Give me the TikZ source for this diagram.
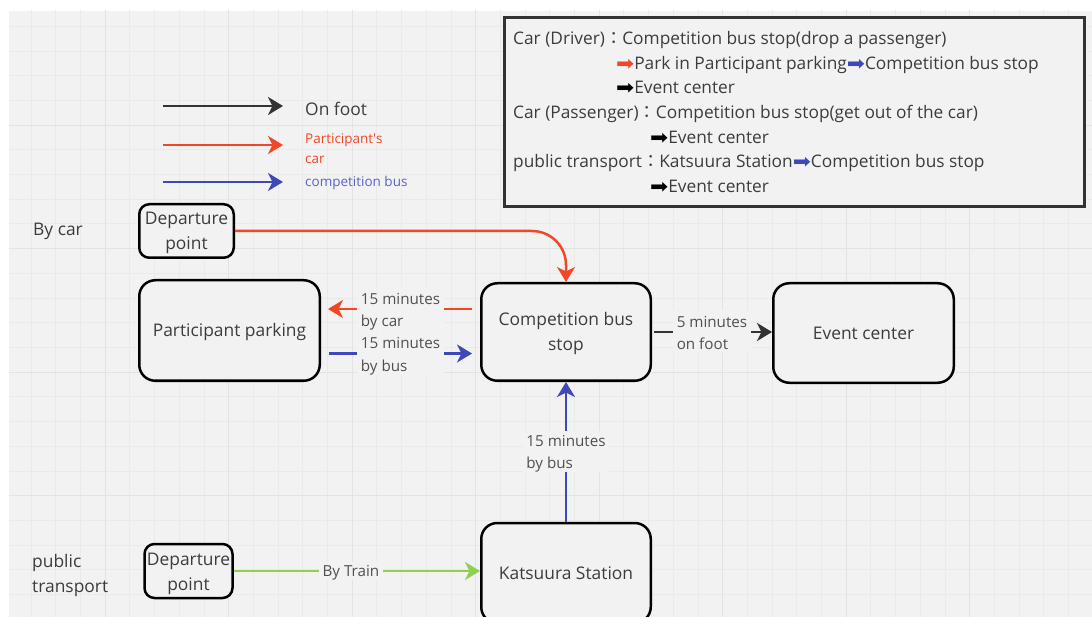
\documentclass[tikz,border=0pt]{standalone}
\usepackage{fontspec}
\setmainfont{Open Sans}
\newfontfamily\cjkfont{Noto Sans CJK JP}
\newfontfamily\symfont{DejaVu Sans}
\usetikzlibrary{arrows.meta}
\definecolor{bg}{HTML}{F2F2F2}
\definecolor{minorgrid}{HTML}{EAEAEA}
\definecolor{majorgrid}{HTML}{E3E3E3}
\definecolor{ink}{HTML}{333333}
\definecolor{txt}{HTML}{3C3C3C}
\definecolor{lbltxt}{HTML}{505050}
\definecolor{carred}{HTML}{F24726}
\definecolor{busblue}{HTML}{3F48B8}
\definecolor{traingreen}{HTML}{8FD14F}
\newcommand\rar[1]{{\color{#1}\raisebox{-0.6pt}{\scalebox{1.25}[1.15]{\symfont ➡}}}}
\newcommand\fwc{{\cjkfont ：}}
\newcommand\myTopS[1]{\rule{0pt}{#1}}
\newcommand\myBotS[1]{\rule[-#1]{0pt}{0pt}}
\tikzset{
  box/.style={draw=black, line width=2.5pt, fill=bg, align=center, text=txt,
    font=\fontsize{17.4}{25}\selectfont, inner sep=0pt},
  bigbox/.style={box, rounded corners=16pt},
  smallbox/.style={box, rounded corners=10pt},
  plain/.style={text=txt, font=\fontsize{17.4}{25}\selectfont, inner sep=0pt},
  infoline/.style={plain, font=\fontsize{17.3}{25}\selectfont, anchor=base west},
  midlbl/.style={fill=bg, text=lbltxt, align=left, font=\fontsize{15.2}{22}\selectfont,
    inner xsep=3.5pt, inner ysep=0pt},
  arr/.style={line width=2.5pt, -{Stealth[length=15pt,width=18pt,inset=4.5pt]}},
}
\begin{document}
\begin{tikzpicture}[x=1pt,y=-1pt]
\useasboundingbox (0,0) rectangle (1092,617);
\clip (0,0) rectangle (1092,617);
\fill[white] (0,0) rectangle (1092,617);
\fill[bg] (9,11) rectangle (1092,617);
\begin{scope}
\clip (9,11) rectangle (1092,617);
\foreach \k in {-4,...,40} \draw[minorgrid, line width=0.6pt] ({105+24.7*\k},0) -- ({105+24.7*\k},617);
\foreach \k in {-5,...,20} \draw[minorgrid, line width=0.6pt] (0,{125+24.7*\k}) -- (1092,{125+24.7*\k});
\foreach \k in {-1,...,8} \draw[majorgrid, line width=0.8pt] ({105+123.5*\k},0) -- ({105+123.5*\k},617);
\foreach \k in {-1,...,4} \draw[majorgrid, line width=0.8pt] (0,{125+123.5*\k}) -- (1092,{125+123.5*\k});
\end{scope}

% legend
\coordinate (l1a) at (163,106); \coordinate (l1b) at (283,106);
\coordinate (l2a) at (163,145); \coordinate (l2b) at (283,145);
\coordinate (l3a) at (163,182); \coordinate (l3b) at (283,182);
\draw[arr, ink] (l1a) -- (l1b);
\draw[arr, carred] (l2a) -- (l2b);
\draw[arr, busblue] (l3a) -- (l3b);
\node[plain, anchor=west] (lfoot) at (305,109) {On foot};
\node[anchor=west, inner sep=0pt, align=left, text=carred, font=\fontsize{13.5}{20}\selectfont] (lcar) at (305,149) {Participant\textquotesingle s\\car};
\node[anchor=west, inner sep=0pt, text=busblue!85!white, font=\fontsize{13.5}{20}\selectfont] (lbus) at (305,183) {competition bus};

% info box
\node[draw=ink, line width=3pt, fill=bg, minimum width=580pt, minimum height=189pt, inner sep=0pt] (info) at (794.5,112) {};
\node[infoline] (i1) at (513,44.5) {Car (Driver)\fwc Competition bus stop(drop a passenger)};
\node[infoline] (i2) at (616,69.5) {\rar{carred}Park in Participant parking\rar{busblue}Competition bus stop};
\node[infoline] (i3) at (616,93.5) {\rar{black}Event center};
\node[infoline] (i4) at (513,118.5) {Car (Passenger)\fwc Competition bus stop(get out of the car)};
\node[infoline] (i5) at (650,143.5) {\rar{black}Event center};
\node[infoline] (i6) at (513,167.5) {public transport\fwc Katsuura Station\rar{busblue}Competition bus stop};
\node[infoline] (i7) at (650,192.5) {\rar{black}Event center};

% side labels
\node[plain, anchor=west] (bycar) at (33,231) {By car};
\node[plain, anchor=west, align=left] (pubtr) at (32,575) {public\\transport};

% boxes
\node[smallbox, minimum width=94.5pt, minimum height=53.5pt] (dep1) at (186.5,231) {\myTopS{17.5pt}Departure\\point\myBotS{4.5pt}};
\node[bigbox, minimum width=180.5pt, minimum height=100.5pt] (park) at (229.5,330.5) {\myTopS{17.5pt}Participant parking\myBotS{4.5pt}};
\node[bigbox, minimum width=169.5pt, minimum height=97.5pt] (bus) at (566,332) {\myTopS{17.5pt}Competition bus\\stop\myBotS{4.5pt}};
\node[bigbox, minimum width=180.5pt, minimum height=99.5pt] (event) at (863.5,333) {\myTopS{17.5pt}Event center\myBotS{4.5pt}};
\node[bigbox, minimum width=169.5pt, minimum height=100pt] (kat) at (566,573) {\myTopS{17.5pt}Katsuura Station\myBotS{4.5pt}};
\node[smallbox, minimum width=88pt, minimum height=54pt] (dep2) at (188.5,571) {\myTopS{17.5pt}Departure\\point\myBotS{4.5pt}};

% connectors
\draw[arr, carred, rounded corners=34pt] (dep1.east) -| (bus.north);
\draw[arr, carred, shorten <=8pt, shorten >=7pt] ([yshift=23pt]bus.west) -- ([yshift=23pt]bus.west -| park.east)
  node[midlbl, midway] (lblcar) {\myTopS{17pt}15 minutes\\by car\myBotS{4pt}};
\draw[arr, busblue, shorten <=8pt, shorten >=8pt] ([yshift=-23pt]park.east) -- ([yshift=-23pt]park.east -| bus.west)
  node[midlbl, midway] (lblbus) {\myTopS{17pt}15 minutes\\by bus\myBotS{4pt}};
\draw[arr, ink, shorten <=2pt] (bus.east) -- (bus.east -| event.west)
  node[midlbl, midway] (lblfoot) {\myTopS{17pt}5 minutes\\on foot\myBotS{4pt}};
\draw[arr, busblue] (kat.north) -- (bus.south)
  node[midlbl, midway] (lblbus2) {\myTopS{15pt}15 minutes\\by bus\myBotS{4pt}};
\draw[arr, traingreen] (dep2.east) -- (dep2.east -| kat.west)
  node[midlbl, midway, xshift=-6pt] (lbltrain) {\myTopS{14pt}By Train\myBotS{4pt}};
\end{tikzpicture}
\end{document}
